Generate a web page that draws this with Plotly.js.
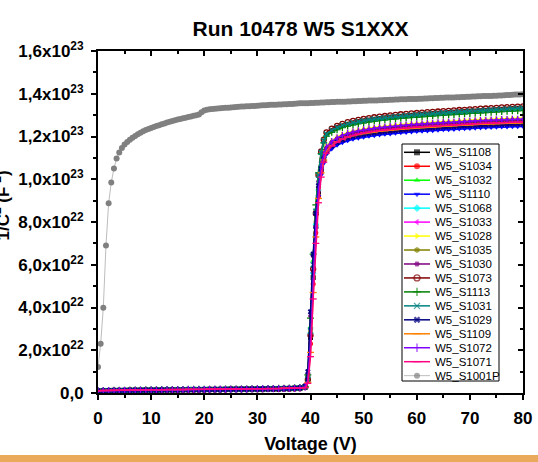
<!DOCTYPE html>
<html>
<head>
<meta charset="utf-8">
<script src="https://cdn.plot.ly/plotly-3.0.1.min.js"></script>
<style>
  html, body { margin: 0; padding: 0; background: #ffffff; }
  #chart { width: 538px; height: 462px; }
</style>
</head>
<body>
<div id="chart"></div>
<script>
// 1/C^2 versus bias voltage, run 10478, wafer 5 sensors.
// Values are in units of 1e22 F^-2; the y tick labels carry the scale.

const sensorVolts = [0,1,2,3,4,5,6,7,8,9,10,11,12,13,14,15,16,17,18,19,20,21,22,23,24,25,26,27,28,29,30,31,32,33,34,35,36,37,38,
  39,39.5,40,40.5,41,41.5,42,42.5,
  43,44,45,46,47,48,49,50,51,52,53,54,55,56,57,58,59,60,61,62,63,64,65,66,67,68,69,70,71,72,73,74,75,76,77,78,79,80];

const s1108 = [0.10,0.11,0.11,0.12,0.12,0.12,0.13,0.13,0.13,0.14,0.14,0.14,0.14,0.15,0.15,0.15,0.15,0.16,0.16,0.16,0.16,0.17,0.17,0.17,0.17,0.18,0.18,0.18,0.18,0.19,0.19,0.19,0.20,0.20,0.20,0.21,0.21,0.22,0.23,
  0.29,0.7,2.6,5.4,7.8,9.4,10.45,10.95,
  11.35,11.61,11.78,11.90,11.99,12.06,12.11,12.16,12.20,12.23,12.26,12.29,12.31,12.34,12.36,12.38,12.40,12.42,12.44,12.45,12.46,12.48,12.50,12.51,12.52,12.54,12.55,12.56,12.58,12.59,12.60,12.61,12.62,12.63,12.64,12.65,12.65,12.66];

const s1034 = [0.11,0.12,0.12,0.13,0.13,0.13,0.14,0.14,0.14,0.15,0.15,0.15,0.15,0.16,0.16,0.16,0.16,0.17,0.17,0.17,0.17,0.18,0.18,0.18,0.18,0.19,0.19,0.19,0.19,0.20,0.20,0.20,0.21,0.21,0.21,0.22,0.22,0.23,0.24,
  0.28,0.6,2.3,5.1,7.5,9.2,10.3,10.85,
  11.25,11.51,11.68,11.80,11.89,11.96,12.01,12.06,12.10,12.13,12.16,12.19,12.21,12.24,12.26,12.28,12.30,12.32,12.34,12.35,12.36,12.38,12.40,12.41,12.42,12.44,12.45,12.46,12.48,12.49,12.50,12.51,12.52,12.53,12.54,12.55,12.55,12.56];

const s1032 = [0.10,0.11,0.12,0.12,0.12,0.13,0.13,0.13,0.14,0.14,0.14,0.14,0.15,0.15,0.15,0.15,0.16,0.16,0.16,0.16,0.17,0.17,0.17,0.17,0.18,0.18,0.18,0.18,0.19,0.19,0.19,0.19,0.20,0.20,0.21,0.21,0.22,0.22,0.23,
  0.27,0.7,3.1,6.2,8.6,10.2,11.2,11.75,
  12.08,12.26,12.38,12.48,12.55,12.61,12.66,12.70,12.74,12.78,12.81,12.84,12.87,12.89,12.91,12.94,12.96,12.97,12.99,13.01,13.03,13.05,13.06,13.08,13.09,13.11,13.12,13.14,13.15,13.17,13.18,13.20,13.21,13.23,13.24,13.26,13.27,13.28];

const s1110 = [0.09,0.10,0.10,0.11,0.11,0.11,0.12,0.12,0.12,0.13,0.13,0.13,0.13,0.14,0.14,0.14,0.14,0.15,0.15,0.15,0.15,0.16,0.16,0.16,0.16,0.17,0.17,0.17,0.17,0.18,0.18,0.18,0.19,0.19,0.19,0.20,0.20,0.21,0.22,
  0.3,0.8,3.0,5.6,7.7,9.2,10.2,10.75,
  11.16,11.42,11.59,11.71,11.80,11.87,11.92,11.97,12.01,12.04,12.07,12.10,12.12,12.15,12.17,12.19,12.21,12.23,12.25,12.26,12.27,12.29,12.31,12.32,12.33,12.35,12.36,12.37,12.39,12.40,12.41,12.42,12.43,12.44,12.45,12.46,12.46,12.47];

const s1068 = [0.11,0.11,0.12,0.12,0.13,0.13,0.13,0.14,0.14,0.14,0.15,0.15,0.15,0.15,0.16,0.16,0.16,0.16,0.17,0.17,0.17,0.17,0.18,0.18,0.18,0.18,0.19,0.19,0.19,0.19,0.20,0.20,0.20,0.21,0.21,0.22,0.22,0.23,0.24,
  0.3,0.7,2.8,5.6,7.9,9.5,10.6,11.05,
  11.41,11.67,11.84,11.96,12.05,12.12,12.17,12.22,12.26,12.29,12.32,12.35,12.37,12.40,12.42,12.44,12.46,12.48,12.50,12.51,12.52,12.54,12.56,12.57,12.58,12.60,12.61,12.62,12.64,12.65,12.66,12.67,12.68,12.69,12.70,12.71,12.71,12.72];

const s1033 = [0.10,0.11,0.11,0.12,0.12,0.12,0.13,0.13,0.13,0.14,0.14,0.14,0.15,0.15,0.15,0.15,0.15,0.16,0.16,0.16,0.17,0.17,0.17,0.17,0.17,0.18,0.18,0.18,0.19,0.19,0.19,0.19,0.20,0.20,0.20,0.21,0.21,0.22,0.23,
  0.27,0.6,2.4,5.3,7.8,9.5,10.6,11.12,
  11.49,11.75,11.92,12.04,12.13,12.20,12.25,12.30,12.34,12.37,12.40,12.43,12.45,12.48,12.50,12.52,12.54,12.56,12.58,12.59,12.60,12.62,12.64,12.65,12.66,12.68,12.69,12.70,12.72,12.73,12.74,12.75,12.76,12.77,12.78,12.79,12.79,12.80];

const s1028 = [0.09,0.10,0.10,0.11,0.11,0.12,0.12,0.12,0.12,0.13,0.13,0.13,0.14,0.14,0.14,0.14,0.14,0.15,0.15,0.15,0.15,0.16,0.16,0.16,0.17,0.17,0.17,0.17,0.17,0.18,0.18,0.18,0.19,0.19,0.19,0.20,0.20,0.21,0.22,
  0.3,0.75,2.6,5.5,7.9,9.6,10.7,11.2,
  11.55,11.81,11.98,12.10,12.19,12.26,12.31,12.36,12.40,12.43,12.46,12.49,12.51,12.54,12.56,12.58,12.60,12.62,12.64,12.65,12.66,12.68,12.70,12.71,12.72,12.74,12.75,12.76,12.78,12.79,12.80,12.81,12.82,12.83,12.84,12.85,12.85,12.86];

const s1035 = [0.11,0.12,0.12,0.13,0.13,0.13,0.14,0.14,0.14,0.15,0.15,0.15,0.15,0.16,0.16,0.16,0.16,0.17,0.17,0.17,0.18,0.18,0.18,0.18,0.18,0.19,0.19,0.19,0.19,0.20,0.20,0.20,0.21,0.21,0.21,0.22,0.22,0.23,0.25,
  0.32,0.8,2.9,5.7,8.0,9.6,10.65,11.1,
  11.44,11.70,11.87,11.99,12.08,12.15,12.20,12.25,12.29,12.32,12.35,12.38,12.40,12.43,12.45,12.47,12.49,12.51,12.53,12.54,12.55,12.57,12.59,12.60,12.61,12.63,12.64,12.65,12.67,12.68,12.69,12.70,12.71,12.72,12.73,12.74,12.74,12.75];

const s1030 = [0.10,0.11,0.11,0.12,0.12,0.13,0.13,0.13,0.13,0.14,0.14,0.14,0.14,0.15,0.15,0.15,0.16,0.16,0.16,0.16,0.16,0.17,0.17,0.17,0.18,0.18,0.18,0.18,0.18,0.19,0.19,0.19,0.20,0.20,0.21,0.21,0.22,0.22,0.24,
  0.3,0.9,3.6,6.4,8.5,9.9,10.8,11.2,
  11.47,11.73,11.90,12.02,12.11,12.18,12.23,12.28,12.32,12.35,12.38,12.41,12.43,12.46,12.48,12.50,12.52,12.54,12.56,12.57,12.58,12.60,12.62,12.63,12.64,12.66,12.67,12.68,12.70,12.71,12.72,12.73,12.74,12.75,12.76,12.77,12.77,12.78];

const s1073 = [0.09,0.10,0.10,0.11,0.11,0.11,0.12,0.12,0.12,0.13,0.13,0.13,0.13,0.14,0.14,0.14,0.15,0.15,0.15,0.15,0.15,0.16,0.16,0.16,0.16,0.17,0.17,0.17,0.18,0.18,0.18,0.18,0.19,0.19,0.19,0.20,0.20,0.21,0.22,
  0.28,0.62,2.7,5.8,8.4,10.2,11.3,11.85,
  12.19,12.37,12.50,12.59,12.67,12.73,12.78,12.82,12.86,12.90,12.93,12.96,12.99,13.01,13.04,13.06,13.08,13.10,13.12,13.14,13.15,13.17,13.19,13.20,13.22,13.24,13.25,13.27,13.28,13.30,13.31,13.33,13.34,13.36,13.37,13.39,13.40,13.41];

const s1113 = [0.11,0.12,0.12,0.13,0.13,0.13,0.14,0.14,0.14,0.15,0.15,0.15,0.16,0.16,0.16,0.16,0.16,0.17,0.17,0.17,0.17,0.18,0.18,0.18,0.19,0.19,0.19,0.19,0.19,0.20,0.20,0.20,0.21,0.21,0.22,0.22,0.23,0.24,0.26,
  0.3,0.85,3.5,6.5,8.8,10.3,11.2,11.7,
  12.02,12.20,12.32,12.42,12.49,12.55,12.60,12.64,12.68,12.72,12.75,12.78,12.81,12.83,12.85,12.88,12.90,12.91,12.93,12.95,12.97,12.99,13.00,13.02,13.03,13.05,13.06,13.08,13.09,13.11,13.12,13.14,13.15,13.17,13.18,13.20,13.21,13.22];

const s1031 = [0.10,0.11,0.11,0.12,0.12,0.12,0.13,0.13,0.13,0.14,0.14,0.14,0.14,0.15,0.15,0.15,0.15,0.16,0.16,0.16,0.16,0.17,0.17,0.17,0.18,0.18,0.18,0.18,0.18,0.19,0.19,0.19,0.20,0.20,0.20,0.21,0.21,0.22,0.23,
  0.28,0.65,2.9,6.0,8.5,10.2,11.25,11.8,
  12.12,12.30,12.42,12.52,12.59,12.65,12.70,12.74,12.79,12.82,12.85,12.88,12.91,12.94,12.96,12.99,13.00,13.02,13.04,13.06,13.08,13.09,13.11,13.12,13.14,13.16,13.17,13.19,13.20,13.22,13.23,13.25,13.26,13.28,13.29,13.31,13.32,13.33];

const s1029 = [0.09,0.10,0.11,0.11,0.11,0.12,0.12,0.12,0.13,0.13,0.13,0.13,0.14,0.14,0.14,0.14,0.15,0.15,0.15,0.15,0.16,0.16,0.16,0.16,0.17,0.17,0.17,0.18,0.18,0.18,0.18,0.19,0.19,0.19,0.20,0.20,0.21,0.22,0.24,
  0.33,1.0,3.8,6.5,8.4,9.7,10.5,10.95,
  11.29,11.55,11.72,11.84,11.93,12.00,12.05,12.10,12.14,12.17,12.20,12.23,12.25,12.28,12.30,12.32,12.34,12.36,12.38,12.39,12.40,12.42,12.44,12.45,12.46,12.48,12.49,12.50,12.52,12.53,12.54,12.55,12.56,12.57,12.58,12.59,12.59,12.60];

const s1109 = [0.11,0.12,0.12,0.12,0.13,0.13,0.14,0.14,0.14,0.14,0.15,0.15,0.15,0.16,0.16,0.16,0.16,0.17,0.17,0.17,0.17,0.18,0.18,0.18,0.18,0.19,0.19,0.19,0.20,0.20,0.20,0.20,0.21,0.21,0.21,0.22,0.22,0.23,0.24,
  0.26,0.5,1.9,4.7,7.3,9.1,10.3,10.9,
  11.33,11.59,11.76,11.88,11.97,12.04,12.09,12.14,12.18,12.21,12.24,12.27,12.29,12.32,12.34,12.36,12.38,12.40,12.42,12.43,12.44,12.46,12.48,12.49,12.50,12.52,12.53,12.54,12.56,12.57,12.58,12.59,12.60,12.61,12.62,12.63,12.63,12.64];

const s1072 = [0.10,0.10,0.11,0.11,0.12,0.12,0.12,0.13,0.13,0.13,0.14,0.14,0.14,0.15,0.15,0.15,0.15,0.16,0.16,0.16,0.16,0.17,0.17,0.17,0.17,0.18,0.18,0.18,0.18,0.19,0.19,0.20,0.20,0.20,0.20,0.21,0.21,0.22,0.23,
  0.28,0.6,2.3,5.2,7.7,9.5,10.6,11.15,
  11.51,11.77,11.94,12.06,12.15,12.22,12.27,12.32,12.36,12.39,12.42,12.45,12.47,12.50,12.52,12.54,12.56,12.58,12.60,12.61,12.62,12.64,12.66,12.67,12.68,12.70,12.71,12.72,12.74,12.75,12.76,12.77,12.78,12.79,12.80,12.81,12.81,12.82];

const s1071 = [0.11,0.12,0.12,0.13,0.13,0.13,0.14,0.14,0.14,0.15,0.15,0.15,0.15,0.16,0.16,0.16,0.16,0.17,0.17,0.17,0.17,0.18,0.18,0.18,0.18,0.19,0.19,0.19,0.19,0.20,0.20,0.20,0.21,0.21,0.21,0.22,0.22,0.23,0.24,
  0.25,0.45,1.7,4.4,7.0,8.9,10.1,10.8,
  11.22,11.55,11.74,11.88,11.98,12.06,12.12,12.17,12.21,12.25,12.28,12.31,12.33,12.36,12.38,12.40,12.42,12.44,12.46,12.47,12.48,12.50,12.52,12.53,12.54,12.56,12.57,12.58,12.60,12.61,12.62,12.63,12.64,12.65,12.66,12.67,12.67,12.68];

// Reference diode, sampled every 0.5 V
const refVolts = [0,0.5,1,1.5,2,2.5,3,3.5,4,4.5,5,5.5,6,6.5,7,7.5,8,8.5,9,9.5,
  10,10.5,11,11.5,12,12.5,13,13.5,14,14.5,15,15.5,16,16.5,17,17.5,18,18.5,19,19.5,
  20,20.5,21,21.5,22,22.5,23,23.5,24,24.5,25,25.5,26,26.5,27,27.5,28,28.5,29,29.5,
  30,30.5,31,31.5,32,32.5,33,33.5,34,34.5,35,35.5,36,36.5,37,37.5,38,38.5,39,39.5,
  40,40.5,41,41.5,42,42.5,43,43.5,44,44.5,45,45.5,46,46.5,47,47.5,48,48.5,49,49.5,
  50,50.5,51,51.5,52,52.5,53,53.5,54,54.5,55,55.5,56,56.5,57,57.5,58,58.5,59,59.5,
  60,60.5,61,61.5,62,62.5,63,63.5,64,64.5,65,65.5,66,66.5,67,67.5,68,68.5,69,69.5,
  70,70.5,71,71.5,72,72.5,73,73.5,74,74.5,75,75.5,76,76.5,77,77.5,78,78.5,79,79.5,80];
const s1001P = [1.22,2.30,3.99,6.90,8.88,9.85,10.50,10.97,11.25,11.46,11.62,11.74,11.85,11.94,12.02,12.10,12.17,12.24,12.30,12.35,
  12.40,12.45,12.49,12.53,12.57,12.61,12.65,12.69,12.72,12.76,12.79,12.82,12.85,12.88,12.91,12.94,12.97,13.00,13.03,13.13,
  13.22,13.25,13.27,13.29,13.30,13.31,13.32,13.33,13.34,13.35,13.36,13.37,13.38,13.39,13.40,13.40,13.41,13.42,13.43,13.43,
  13.44,13.45,13.46,13.46,13.47,13.48,13.49,13.49,13.50,13.50,13.51,13.51,13.52,13.52,13.53,13.54,13.55,13.55,13.56,13.56,
  13.57,13.57,13.58,13.58,13.59,13.59,13.60,13.60,13.61,13.61,13.62,13.62,13.63,13.63,13.64,13.64,13.65,13.65,13.66,13.66,
  13.67,13.67,13.68,13.68,13.69,13.69,13.70,13.70,13.71,13.71,13.72,13.72,13.73,13.73,13.74,13.74,13.74,13.75,13.75,13.76,
  13.76,13.77,13.77,13.78,13.78,13.79,13.79,13.80,13.80,13.81,13.81,13.82,13.82,13.83,13.83,13.84,13.84,13.85,13.85,13.86,
  13.86,13.87,13.87,13.88,13.88,13.89,13.89,13.90,13.90,13.91,13.91,13.92,13.92,13.93,13.94,13.94,13.95,13.96,13.97,13.97,13.98];

const seriesNames = ['W5_S1108','W5_S1034','W5_S1032','W5_S1110','W5_S1068','W5_S1033','W5_S1028','W5_S1035',
  'W5_S1030','W5_S1073','W5_S1113','W5_S1031','W5_S1029','W5_S1109','W5_S1072','W5_S1071','W5_S1001P'];
const seriesValues = [s1108,s1034,s1032,s1110,s1068,s1033,s1028,s1035,s1030,s1073,s1113,s1031,s1029,s1109,s1072,s1071,s1001P];

const yTickVals = [0,2,4,6,8,10,12,14,16];
const yTickText = ['0,0','2,0x10<sup>22</sup>','4,0x10<sup>22</sup>','6,0x10<sup>22</sup>','8,0x10<sup>22</sup>',
  '1,0x10<sup>23</sup>','1,2x10<sup>23</sup>','1,4x10<sup>23</sup>','1,6x10<sup>23</sup>'];

// Styles (Origin-like palette and symbol cycle)
const lineColors = ['#000000','#FF0000','#00FF00','#0000FF','#00FFFF','#FF00FF','#FFFF00','#808000',
  '#800080','#800000','#008000','#008080','#000080','#FF8000','#8000FF','#FF0080','#BDBDBD'];
const markerColors = lineColors.slice(0,16).concat(['#808080']);
const symbols = ['square','circle','triangle-up','triangle-down','diamond','triangle-left','triangle-right','hexagon',
  'hexagon2','circle-open','cross-thin-open','x-thin-open','x','line-ew-open','line-ns-open','line-ew-open','circle'];
const openSymbol = s => s.indexOf('open') >= 0;

const FONT = '"Liberation Sans", Arial, Helvetica, sans-serif';
const W = 538, H = 462;
const M = {l: 98, r: 15, t: 51, b: 69};
const plotW = W - M.l - M.r, plotH = H - M.t - M.b;
const px = x => (x - M.l) / plotW;          // page pixel -> paper x
const py = y => (H - M.b - y) / plotH;      // page pixel -> paper y

const traces = [];
seriesNames.forEach((name, i) => {
  const isRef = i === 16;
  traces.push({
    x: isRef ? refVolts : sensorVolts,
    y: seriesValues[i],
    name: name,
    type: 'scatter',
    mode: 'lines+markers',
    line: {color: lineColors[i], width: isRef ? 1 : 1.5},
    marker: {
      symbol: symbols[i],
      size: isRef ? 6 : 5,
      color: markerColors[i],
      line: {color: markerColors[i], width: openSymbol(symbols[i]) ? 1.3 : 0}
    },
    showlegend: false,
    hoverinfo: 'skip'
  });
});

// Mirror axes on top and right, ticks pointing inward
traces.push({x: [], y: [], xaxis: 'x2', yaxis: 'y2', showlegend: false, hoverinfo: 'skip'});

// Legend block drawn on its own small axes, pixel-like units
const legendBox = {left: 402, top: 144, right: 499, bottom: 381};
const legW = legendBox.right - legendBox.left, legH = legendBox.bottom - legendBox.top;
const rowFirst = 8.3, rowPitch = 13.96;
const annotations = [];
seriesNames.forEach((name, i) => {
  const yRow = rowFirst + i * rowPitch;
  traces.push({
    x: [2, 15, 28], y: [yRow, yRow, yRow],
    xaxis: 'x3', yaxis: 'y3', type: 'scatter', mode: 'lines+markers',
    line: {color: lineColors[i], width: i === 16 ? 1 : 1.5},
    marker: {symbol: symbols[i], size: [0, 6, 0], color: markerColors[i],
      line: {color: markerColors[i], width: openSymbol(symbols[i]) ? 1.3 : 0}},
    showlegend: false, hoverinfo: 'skip', cliponaxis: false
  });
  annotations.push({
    xref: 'x3', yref: 'y3', x: 31, y: yRow, text: name, showarrow: false,
    xanchor: 'left', yanchor: 'middle',
    font: {family: FONT, size: 11.5, color: '#000000'}
  });
});

// Y axis title, set against the page's left edge
annotations.push({
  xref: 'paper', yref: 'paper', x: px(14.5), y: py(206), xanchor: 'right', yanchor: 'middle',
  text: '1/C<sup>2</sup> (F<sup>-2</sup>)', textangle: -90, showarrow: false,
  font: {family: FONT, size: 17, weight: 'bold', color: '#000000'}
});

const tickFont = {family: FONT, size: 17, weight: 'bold', color: '#000000'};
const axisCommon = {
  showline: true, linecolor: '#000000', linewidth: 2, showgrid: false, zeroline: false,
  tickcolor: '#000000', tickwidth: 2, ticklen: 5, fixedrange: true
};

const layout = {
  width: W, height: H,
  margin: M,
  paper_bgcolor: '#ffffff', plot_bgcolor: '#ffffff',
  font: {family: FONT, color: '#000000'},
  title: {
    text: 'Run 10478 W5 S1XXX',
    font: {family: FONT, size: 21, weight: 'bold', color: '#000000'},
    xref: 'container', x: 300.5 / W, xanchor: 'center',
    yref: 'container', y: 1 - 29 / H, yanchor: 'middle'
  },
  xaxis: Object.assign({}, axisCommon, {
    range: [0, 80], tickmode: 'linear', tick0: 0, dtick: 10, ticks: 'outside',
    minor: {tickmode: 'linear', tick0: 0, dtick: 5, ticks: 'outside', ticklen: 3, tickwidth: 2, tickcolor: '#000000'},
    tickfont: tickFont, ticklabelstandoff: 4,
    title: {text: 'Voltage (V)', font: {family: FONT, size: 18, weight: 'bold', color: '#000000'}, standoff: 10}
  }),
  yaxis: Object.assign({}, axisCommon, {
    range: [0, 16], tickmode: 'array', tickvals: yTickVals, ticktext: yTickText, ticks: 'outside',
    minor: {tickmode: 'linear', tick0: 0, dtick: 1, ticks: 'outside', ticklen: 3, tickwidth: 2, tickcolor: '#000000'},
    tickfont: tickFont, ticklabelstandoff: 4
  }),
  xaxis2: Object.assign({}, axisCommon, {
    overlaying: 'x', anchor: 'y2', side: 'top', range: [0, 80],
    tickmode: 'linear', tick0: 0, dtick: 10, ticks: 'inside', showticklabels: false,
    minor: {tickmode: 'linear', tick0: 0, dtick: 5, ticks: 'inside', ticklen: 3, tickwidth: 2, tickcolor: '#000000'}
  }),
  yaxis2: Object.assign({}, axisCommon, {
    overlaying: 'y', anchor: 'x2', side: 'right', range: [0, 16],
    tickmode: 'linear', tick0: 0, dtick: 2, ticks: 'inside', showticklabels: false,
    minor: {tickmode: 'linear', tick0: 0, dtick: 1, ticks: 'inside', ticklen: 3, tickwidth: 2, tickcolor: '#000000'}
  }),
  xaxis3: {domain: [px(legendBox.left), px(legendBox.right)], anchor: 'y3', range: [0, legW],
    visible: false, fixedrange: true},
  yaxis3: {domain: [py(legendBox.bottom), py(legendBox.top)], anchor: 'x3', range: [legH, 0],
    visible: false, fixedrange: true},
  shapes: [
    {type: 'rect', xref: 'paper', yref: 'paper',
      x0: px(legendBox.left), x1: px(legendBox.right), y0: py(legendBox.bottom), y1: py(legendBox.top),
      line: {color: '#000000', width: 1}, fillcolor: 'rgba(0,0,0,0)', layer: 'above'},
    {type: 'rect', xref: 'paper', yref: 'paper',
      x0: px(-10), x1: px(W + 10), y0: py(H + 10), y1: py(455),
      line: {width: 0}, fillcolor: '#EAAA5C', layer: 'above'}
  ],
  annotations: annotations,
  hovermode: false,
  showlegend: false
};

Plotly.newPlot('chart', traces, layout, {staticPlot: true, displayModeBar: false});
</script>
</body>
</html>
